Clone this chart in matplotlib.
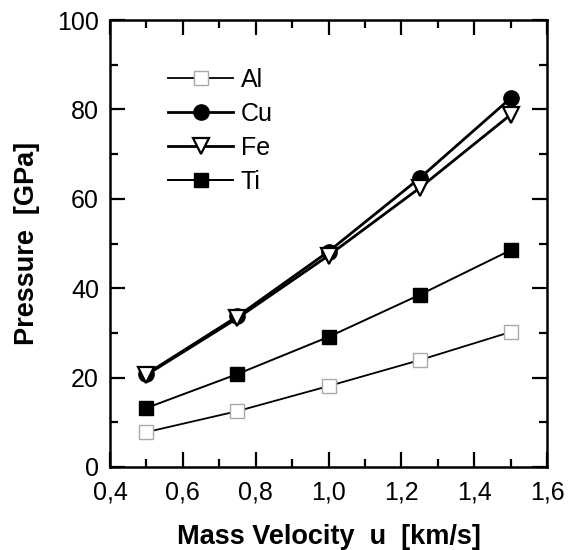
import matplotlib
matplotlib.use("Agg")
import matplotlib.pyplot as plt
from matplotlib.ticker import MultipleLocator, FuncFormatter

plt.rcParams['font.family'] = ['Liberation Sans', 'DejaVu Sans']

u = [0.5, 0.75, 1.0, 1.25, 1.5]
al = [7.8, 12.5, 18.1, 23.9, 30.2]
cu = [20.8, 33.7, 48.2, 64.6, 82.5]
fe = [20.6, 33.3, 47.3, 62.4, 78.8]
ti = [13.2, 20.8, 29.1, 38.5, 48.5]

fig = plt.figure(figsize=(5.74, 5.5), dpi=100)
ax = fig.add_axes([110/574, 1-467/550, 437/574, 447/550])

ax.plot(u, al, '-', color='black', lw=1.3, marker='s', ms=10, mfc='white',
        mec='#aaaaaa', mew=1.0, label='Al')
ax.plot(u, cu, '-', color='black', lw=2.0, marker='o', ms=11, mfc='black',
        mec='black', label='Cu')
ax.plot(u, fe, '-', color='black', lw=2.0, marker='v', ms=11, mfc='white',
        mec='black', mew=1.6, label='Fe')
ax.plot(u, ti, '-', color='black', lw=1.4, marker='s', ms=10, mfc='black',
        mec='black', label='Ti')

ax.set_xlim(0.4, 1.6)
ax.set_ylim(0, 100)
ax.xaxis.set_major_locator(MultipleLocator(0.2))
ax.xaxis.set_minor_locator(MultipleLocator(0.1))
ax.yaxis.set_major_locator(MultipleLocator(20))
ax.yaxis.set_minor_locator(MultipleLocator(10))
ax.xaxis.set_major_formatter(FuncFormatter(lambda v, p: f"{v:.1f}".replace('.', ',')))
ax.yaxis.set_major_formatter(FuncFormatter(lambda v, p: f"{v:.0f}"))

ax.tick_params(which='both', direction='in', top=True, right=True, width=1.6,
               labelsize=18, colors='black')
ax.tick_params(which='major', length=11)
ax.tick_params(which='minor', length=6)
ax.tick_params(axis='x', which='major', pad=10)
ax.tick_params(axis='y', which='major', pad=8)
for s in ax.spines.values():
    s.set_linewidth(1.8)

ax.set_xlabel('Mass Velocity  u  [km/s]', fontsize=19.5, fontweight='bold', labelpad=14)
ax.set_ylabel('Pressure  [GPa]', fontsize=19.5, fontweight='bold', labelpad=12)

leg = ax.legend(loc='upper left', bbox_to_anchor=(0.11, 0.915), frameon=False,
                fontsize=18, handlelength=2.6, handletextpad=0.3,
                labelspacing=0.4, borderaxespad=0)

fig.savefig('out.png', dpi=100)
